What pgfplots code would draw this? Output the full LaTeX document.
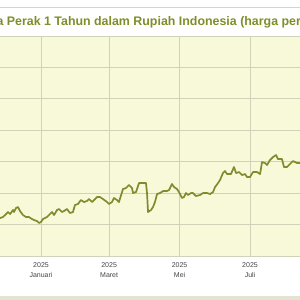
\documentclass[border=0pt]{standalone}
\usepackage{pgfplots}
\pgfplotsset{compat=1.18}
\usepackage{fontspec}
\setmainfont{Liberation Sans}
\definecolor{titlecol}{RGB}{128,142,42}
\definecolor{linecol}{RGB}{126,140,46}
\definecolor{bgcol}{RGB}{247,249,216}
\definecolor{gridcol}{RGB}{208,210,186}
\definecolor{framecol}{RGB}{214,216,190}
\definecolor{bandcol}{RGB}{226,227,208}
\definecolor{labcol}{RGB}{70,70,70}
\begin{document}
\begin{tikzpicture}[x=1pt,y=1pt]
\path[use as bounding box] (0,0) rectangle (300,300);
\clip (0,0) rectangle (300,300);
\fill[white] (0,0) rectangle (300,300);
\draw[framecol, line width=1pt] (0,292) -- (300,292);
\fill[bandcol] (0,0) rectangle (300,4);
\node[anchor=base west, inner sep=0pt, text=titlecol, font=\bfseries\fontsize{12.4}{14}\selectfont] at (6.7,274) {\llap{Grafik Harga }Perak 1 Tahun dalam Rupiah Indonesia (harga per};
\begin{axis}[
  at={(-5.19pt,44pt)}, anchor=south west,
  scale only axis, width=311.8pt, height=220pt,
  xmin=-40, xmax=230, ymin=12000, ymax=26000,
  scaled y ticks=false, scaled x ticks=false,
  axis background/.style={fill=bgcol},
  axis line style={draw=gridcol},
  grid=major, major grid style={draw=gridcol, line width=0.8pt},
  xtick={0,59,120,181},
  xticklabels={2025\\Januari,2025\\Maret,2025\\Mei,2025\\Juli},
  ytick={12000,14000,16000,18000,20000,22000,24000,26000},
  yticklabels={},
  major tick length=0pt,
  xticklabel style={align=center, text=labcol, font=\fontsize{7}{9.5}\selectfont, yshift=-3.5pt},
  clip=true,
]
\addplot[linecol, line width=1.7pt, line join=round] table {
-35.5 14417
-32.9 14480
-29.4 14735
-28.6 14798
-26.8 14671
-24.2 14926
-23.4 14798
-21.7 15053
-19.9 15116
-18.2 14862
-15.6 14608
-13.0 14480
-10.4 14480
-7.8 14353
-6.1 14290
-3.5 14226
-1.7 14099
0 14162
1.7 14353
5.2 14480
7.8 14671
9.5 14798
11.3 14608
13.9 14926
15.6 14989
18.2 14798
19.9 14862
22.5 14989
25.1 14735
27.7 14798
29.4 15244
32.0 15307
34.6 15562
37.2 15434
39.8 15498
41.6 15625
44.2 15434
46.8 15625
48.5 15752
51.1 15752
53.7 15625
57.2 15434
58.9 15307
61.5 15434
63.2 15689
65.8 15562
67.5 15434
71.0 16261
73.6 16325
76.2 16516
78.8 16325
79.7 16007
82.3 16070
84.9 16643
88.3 16643
90.9 16643
91.8 16007
92.7 14798
95.3 14926
97.0 15116
98.7 15434
100.5 15943
103.1 16007
105.7 16134
109.1 16134
110.9 16198
113.4 16579
115.2 16388
117.8 16261
119.5 16070
122.1 15689
123.8 15752
125.6 16007
127.3 15880
129.9 16007
131.6 16007
134.2 15816
137.7 15880
140.3 16007
143.8 16007
146.4 15943
149.0 16070
150.7 16388
153.3 16643
155.0 16834
157.6 17279
159.3 17406
161.1 17215
164.5 17215
167.1 17660
168.9 17279
171.5 17342
174.1 17152
176.7 17215
178.4 17024
181.0 17024
183.6 17342
187.1 17342
189.7 17215
191.4 17978
194.0 17915
195.7 17788
198.3 18106
200.9 18296
203.5 18424
205.2 18169
208.7 18169
210.4 17660
213.0 17660
215.6 17851
218.2 18042
221.7 17915
224.3 17915
226.9 17978
229.5 17851
};
\end{axis}
\end{tikzpicture}
\end{document}
